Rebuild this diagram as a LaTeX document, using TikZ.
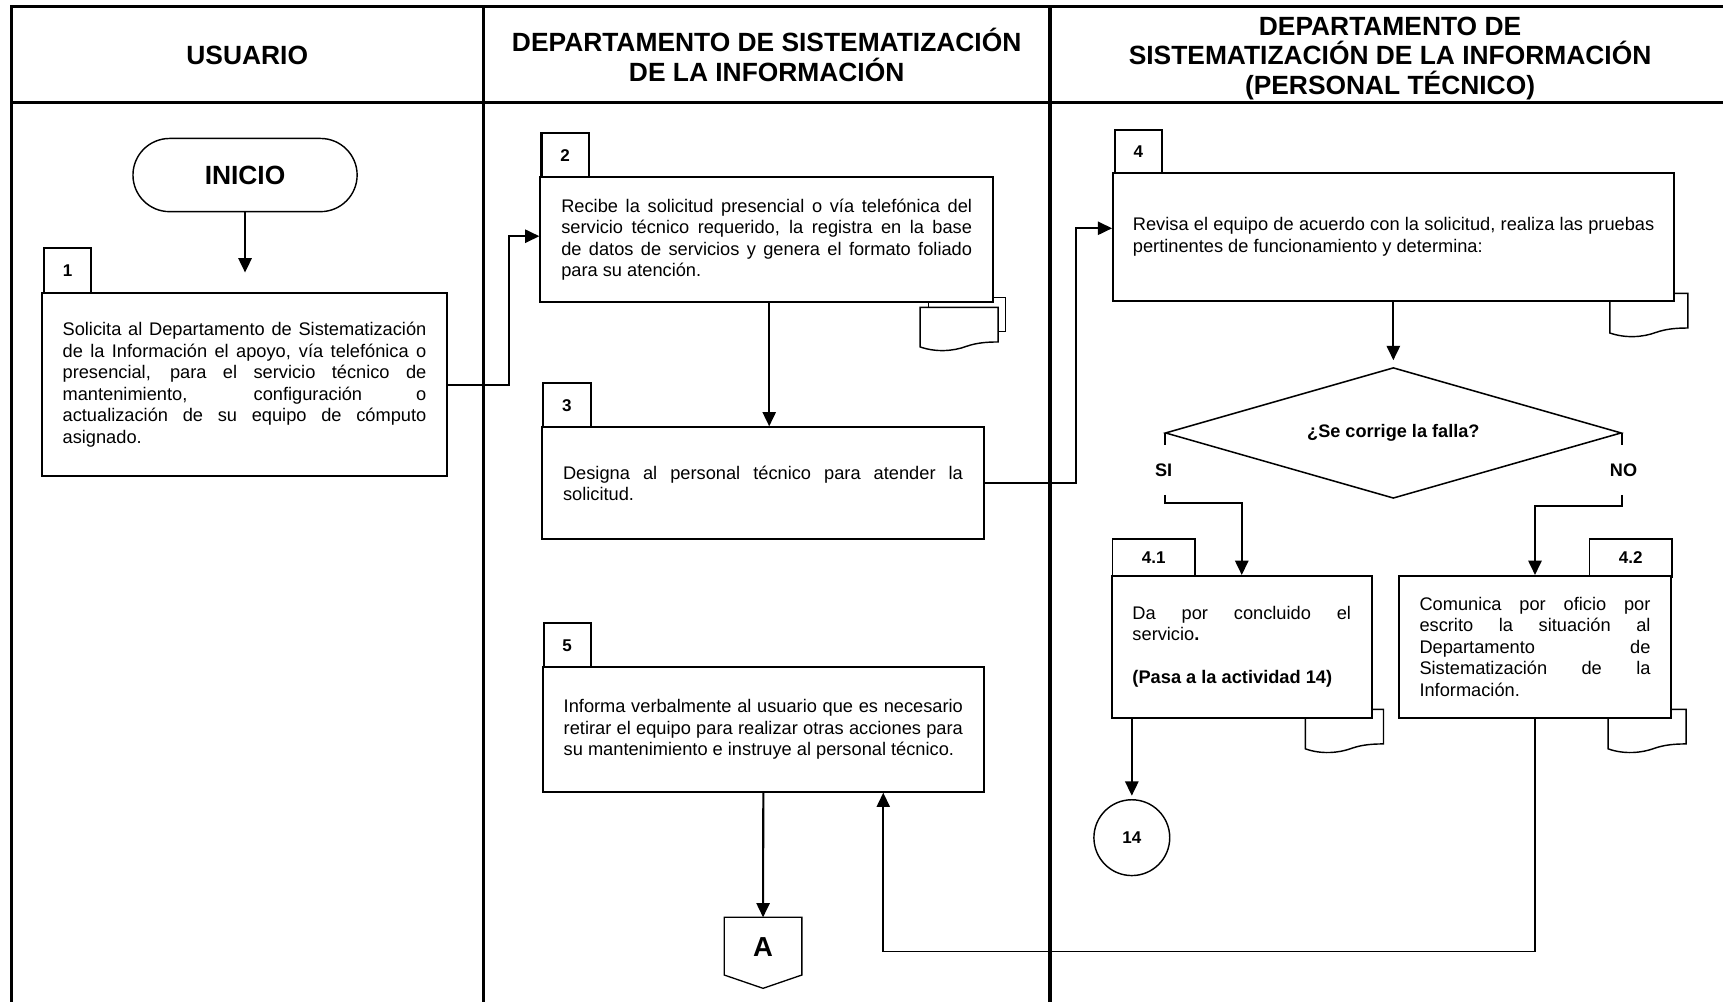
\documentclass[tikz,border=0pt]{standalone}
\usepackage{fontspec}
\setmainfont{Liberation Sans}
\usetikzlibrary{arrows.meta,shapes.geometric,shapes.misc}
\begin{document}
\begin{tikzpicture}[x=1pt,y=-1pt,
  frameline/.style={line width=2.8pt},
  hdr/.style={font=\fontsize{24}{27}\selectfont\bfseries,align=center,inner sep=0pt},
  box/.style={draw,line width=1.9pt,fill=white,inner xsep=19pt,inner ysep=0pt,
     font=\fontsize{16.6}{19.6}\selectfont,align=justify},
  tab/.style={draw,line width=1.9pt,fill=white,inner sep=0pt,anchor=north west,
     font=\fontsize{15.5}{18}\selectfont\bfseries},
  conn/.style={line width=1.9pt},
  arr/.style={line width=1.9pt,-{Triangle[length=13pt,width=12pt]}},
  fbarr/.style={line width=1.5pt,-{Triangle[length=13pt,width=12pt]}},
  docline/.style={draw,line width=1.3pt,fill=white},
  lbl/.style={font=\fontsize{16.5}{19}\selectfont\bfseries,inner sep=0pt},
  docpic/.pic={\path[docline] (0,0) -- (0,36) .. controls (14,41) and (30,40) .. (42,35.5) .. controls (52,32) and (62,31.5) .. (71,31.5) -- (71,0) -- cycle;}
]
\path[use as bounding box,clip] (0,0) rectangle (1568,911);
% frame
\draw[frameline] (10.5,930) -- (10.5,5.5) -- (1590,5.5);
\draw[frameline] (10.5,93) -- (1590,93);
\draw[frameline] (439.8,5.5) -- (439.8,930);
\draw[frameline] (955.5,5.5) -- (955.5,930);
% headers
\node[hdr] (h1) at (225,50) {USUARIO};
\node[hdr] (h2) at (697.7,50) {DEPARTAMENTO DE SISTEMATIZACIÓN\\DE LA INFORMACIÓN};
\node[hdr] (h3) at (1265,53) {DEPARTAMENTO DE\\SISTEMATIZACIÓN DE LA INFORMACIÓN\\(PERSONAL TÉCNICO)};
% start
\node[draw,rounded rectangle,line width=1.3pt,minimum width=204pt,minimum height=66.6pt,inner sep=0pt,
  font=\fontsize{24}{27}\selectfont\bfseries] (ini) at (223,159.3) {INICIO};
\coordinate (a1) at (223,248);
\draw[arr] (ini.south) -- (a1);
% documents
\path[docline] (845,270.9) rectangle (914.9,301.8);
\pic at (837.4,279.7) {docpic};
\pic at (1465,267) {docpic};
\pic at (1188,645.5) {docpic};
\pic at (1463.5,645.5) {docpic};
% tabs
\node[tab,minimum width=43pt,minimum height=42.5pt] (t1) at (39,224.5) {1};
\node[tab,minimum width=43.2pt,minimum height=41.6pt] (t2) at (491.8,119.8) {2};
\node[tab,minimum width=43.1pt,minimum height=41.6pt] (t3) at (493.4,347.3) {3};
\node[tab,minimum width=42.4pt,minimum height=39.7pt] (t4) at (1013.8,117.4) {4};
\node[tab,minimum width=42.5pt,minimum height=41.6pt] (t5) at (494,565.7) {5};
\node[tab,line width=1.5pt,minimum width=75pt,minimum height=34.3pt] (t41) at (1011.6,489.9) {4.1};
\node[tab,line width=1.5pt,minimum width=75.4pt,minimum height=34.3pt] (t42) at (1445.6,489.9) {4.2};
% boxes
\node[box,text width=331pt,minimum height=166pt] (b1) at (222.5,350) {Solicita al Departamento de Sistematización\linebreak de la Información el apoyo, vía telefónica o\linebreak presencial, para el servicio técnico de\linebreak mantenimiento, configuración o\linebreak actualización de su equipo de cómputo\linebreak asignado.};
\node[box,text width=373.8pt,minimum height=113.1pt] (b2) at (697.7,217.95) {Recibe la solicitud presencial o vía telefónica del\linebreak servicio técnico requerido, la registra en la base\linebreak de datos de servicios y genera el formato foliado\linebreak para su atención.};
\node[box,text width=363.9pt,minimum height=101.9pt] (b3) at (694.35,439.85) {Designa al personal técnico para atender la\linebreak solicitud.};
\node[box,text width=363.3pt,minimum height=113.1pt] (b5) at (694.65,663.85) {Informa verbalmente al usuario que es necesario\linebreak retirar el equipo para realizar otras acciones para\linebreak su mantenimiento e instruye al personal técnico.};
\node[box,inner xsep=18pt,text width=474.5pt,minimum height=116.5pt] (b4) at (1268.25,215.35) {Revisa el equipo de acuerdo con la solicitud, realiza las pruebas\linebreak pertinentes de funcionamiento y determina:};
\node[box,inner xsep=19pt,text width=198.9pt,minimum height=128.9pt] (b41) at (1130.05,588.65) {Da por concluido el\linebreak servicio\textbf{.}\par\vspace{19.6pt}\textbf{(Pasa a la actividad 14)}};
\node[box,inner xsep=19pt,text width=210.2pt,minimum height=128.9pt] (b42) at (1396.9,588.65) {Comunica por oficio por\linebreak escrito la situación al\linebreak Departamento de\linebreak Sistematización de la\linebreak Información.};
% decision
\node[draw,diamond,shape aspect=3.5,line width=1.4pt,minimum width=415pt,minimum height=119pt,inner sep=0pt,
  font=\fontsize{16.5}{19}\selectfont\bfseries] (dec) at (1268,394) {¿Se corrige la falla?};
\node[lbl,minimum height=45pt] (si) at (1059,427.7) {SI};
\node[lbl,minimum height=45pt] (no) at (1477.5,427.7) {NO};
% connector 14 and off-page A
\node[draw,circle,line width=1.3pt,minimum size=69pt,inner sep=0pt,
  font=\fontsize{15.5}{18}\selectfont\bfseries] (c14) at (1030,762.3) {14};
\draw[line width=1.2pt,fill=white] (659.1,834.8) -- (729.7,834.8) -- (729.7,887.3) -- (694.4,899.4) -- (659.1,887.3) -- cycle;
\node[font=\fontsize{25}{28}\selectfont\bfseries] (offA) at (694.4,862) {A};
\coordinate (atop) at (694.4,834.8);
% connectors
\coordinate (j1) at (463,0);
\coordinate (j2) at (979.2,0);
\coordinate (x700) at (700,0);
\coordinate (fb) at (803.8,866);
\draw[arr] (b1.east) -- (b1.east -| j1) |- ([yshift=3pt]b2.west);
\draw[arr] (b2.south -| x700) -- (b3.north -| x700);
\draw[arr] (b3.east) -- (b3.east -| j2) |- ([yshift=7.6pt]b4.west);
\draw[arr,shorten >=6pt] (b4.south -| dec.north) -- (dec.north);
\draw[conn] (dec.west) -- (dec.west |- si.north);
\draw[arr] (dec.west |- si.south) -- ++(0,7) -| (b41.north);
\draw[conn] (dec.east) -- (dec.east |- no.north);
\draw[arr] (dec.east |- no.south) -- ++(0,10) -| (b42.north);
\draw[arr,shorten >=3pt] (b41.south -| c14.north) -- (c14.north);
\draw[arr] (b5.south) -- (atop);
\draw[fbarr] (b42.south) |- (fb) -- (fb |- b5.south);
\end{tikzpicture}
\end{document}
